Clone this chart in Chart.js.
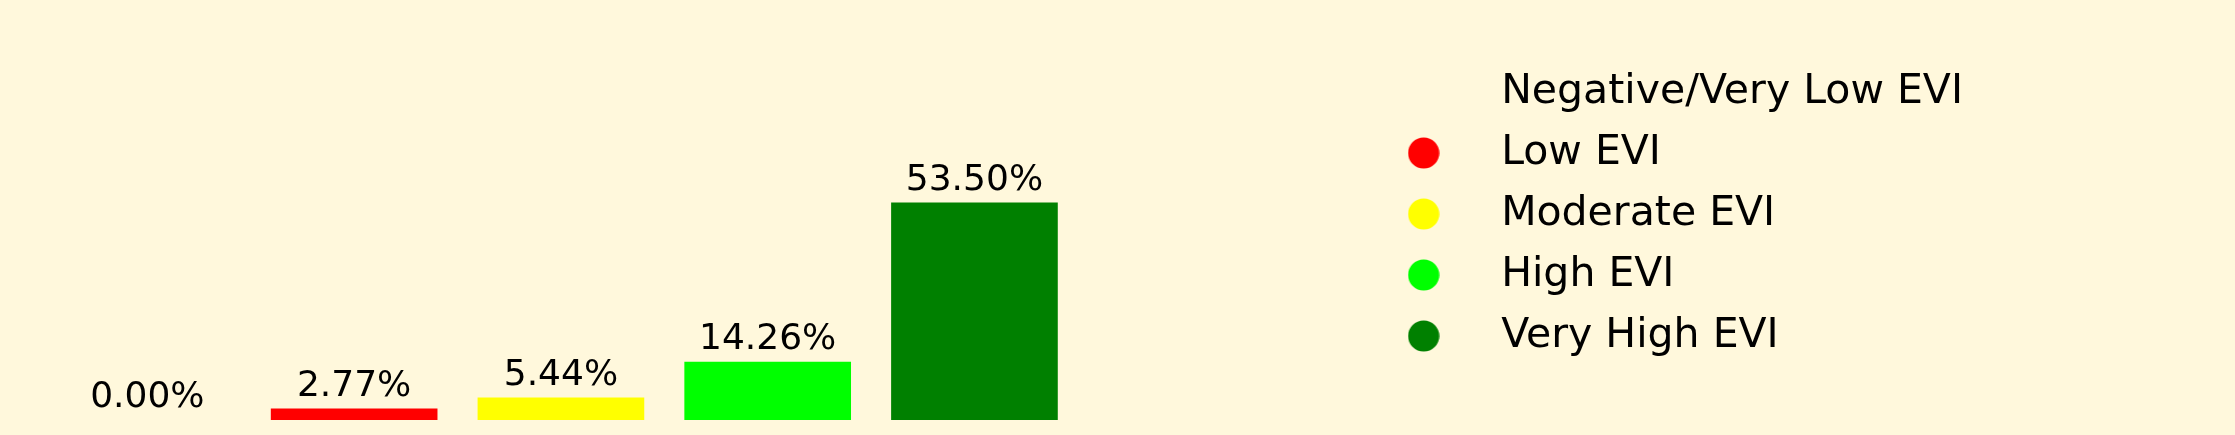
<!DOCTYPE html>
<html>
<head>
<meta charset="utf-8">
<script src="https://cdn.jsdelivr.net/npm/chart.js@4"></script>
<style>
  html, body { margin: 0; padding: 0; background: #FFF8DC; }
  canvas { display: block; }
</style>
</head>
<body>
<canvas id="eviChart" width="2235" height="435"></canvas>
<script>
// EVI class shares (%)
const categories = ['Negative/Very Low EVI', 'Low EVI', 'Moderate EVI', 'High EVI', 'Very High EVI'];
const percentages = [0.00, 2.77, 5.44, 14.26, 53.50];
const barColors = ['transparent', '#FF0000', '#FFFF00', '#00FF00', '#008000'];

// round legend markers drawn once into small canvases
function dot(color) {
    const c = document.createElement('canvas');
    c.width = 32;
    c.height = 32;
    const g = c.getContext('2d');
    g.fillStyle = color;
    g.beginPath();
    g.arc(16, 16, 15.6, 0, Math.PI * 2);
    g.fill();
    return c;
}

// value labels above each bar
const barLabels = {
    id: 'barLabels',
    afterDatasetsDraw(chart) {
        const ctx = chart.ctx;
        const meta = chart.getDatasetMeta(0);
        ctx.save();
        ctx.font = '36px "DejaVu Sans"';
        ctx.fillStyle = '#000';
        ctx.textAlign = 'center';
        ctx.textBaseline = 'alphabetic';
        meta.data.forEach((bar, i) => {
            ctx.fillText(percentages[i].toFixed(2) + '%', bar.x, bar.y - 13);
        });
        ctx.restore();
    }
};

const ctx = document.getElementById('eviChart').getContext('2d');
const eviChart = new Chart(ctx, {
    type: 'bar',
    data: {
        datasets: [{
            label: 'EVI',
            data: percentages.map((v, i) => ({ x: i, y: v })),
            backgroundColor: barColors,
            borderWidth: 0,
            barThickness: 166
        }]
    },
    options: {
        responsive: false,
        animation: false,
        layout: {
            padding: { top: 8, bottom: 15, left: 44, right: 262 }
        },
        scales: {
            x: {
                type: 'linear',
                min: -0.5,
                max: 5.8,
                offset: false,
                display: false
            },
            y: {
                min: 0,
                max: 101.5,
                display: false
            }
        },
        plugins: {
            tooltip: { enabled: false },
            legend: {
                position: 'right',
                align: 'center',
                labels: {
                    usePointStyle: true,
                    pointStyleWidth: 114,
                    padding: 20,
                    color: '#000',
                    font: { family: 'DejaVu Sans', size: 41 },
                    generateLabels: () => categories.map((name, i) => ({
                        text: name,
                        fillStyle: barColors[i],
                        strokeStyle: 'transparent',
                        lineWidth: 0,
                        pointStyle: dot(barColors[i]),
                        hidden: false,
                        datasetIndex: 0,
                        index: i
                    }))
                }
            }
        }
    },
    plugins: [barLabels]
});
</script>
</body>
</html>
